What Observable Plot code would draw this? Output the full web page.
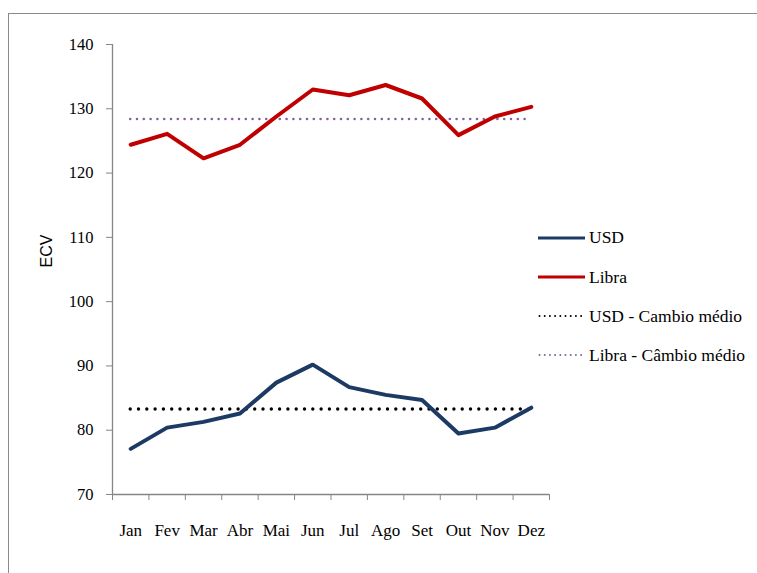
<!DOCTYPE html>
<html>
<head>
<meta charset="utf-8">
<script src="https://cdn.jsdelivr.net/npm/d3@7"></script>
<script src="https://cdn.jsdelivr.net/npm/@observablehq/plot@0.6"></script>
<style>
  html, body { margin: 0; padding: 0; background: #fff; overflow: hidden; }
  #wrap { position: relative; width: 757px; height: 573px; overflow: hidden; background: #fff; }
  #border { position: absolute; left: 8px; top: 13px; width: 900px; height: 700px; border-left: 1.5px solid #8a8a8a; border-top: 1.5px solid #8a8a8a; box-sizing: border-box; }
  #chart { position: absolute; left: 0; top: 0; }
  #ylabel { position: absolute; left: 47px; top: 251px; transform: translate(-50%, -50%) rotate(-90deg); font-family: "Liberation Sans", Arial, sans-serif; font-size: 16px; color: #000; white-space: nowrap; }
  .leg { position: absolute; left: 538px; height: 20px; display: flex; align-items: center; font-family: "Liberation Serif", "Times New Roman", "DejaVu Serif", serif; font-size: 17.5px; color: #000; white-space: nowrap; transform: translateY(-50%); }
  .leg svg { margin-right: 4px; }
</style>
</head>
<body>
<div id="wrap">
  <div id="border"></div>
  <div id="chart"></div>
  <div id="ylabel">ECV</div>
  <div id="legend"></div>
</div>
<script>
// ---- Data ----
const months = ["Jan", "Fev", "Mar", "Abr", "Mai", "Jun", "Jul", "Ago", "Set", "Out", "Nov", "Dez"];
const usd    = [77.1, 80.4, 81.3, 82.6, 87.4, 90.2, 86.7, 85.5, 84.7, 79.5, 80.4, 83.5];
const libra  = [124.4, 126.1, 122.3, 124.4, 128.8, 133.0, 132.1, 133.7, 131.6, 125.9, 128.8, 130.3];
const usdAvg = 83.3;
const libraAvg = 128.4;
const yTicks = [70, 80, 90, 100, 110, 120, 130, 140];
const seriesNames = ["USD", "Libra", "USD - Cambio médio", "Libra - Câmbio médio"];

// ---- Table built from the arrays ----
const rows = months.map((m, i) => ({ idx: i + 0.5, month: m, usd: usd[i], libra: libra[i] }));
const boundaries = d3.range(months.length + 1);
const centers = months.map((m, i) => i + 0.5);

const axisGray = "#868686";
const usdColor = "#1C3A63";
const libraColor = "#C00000";
const purple = "#8064A2";
const serifFont = "'Liberation Serif', 'Times New Roman', 'DejaVu Serif', serif";

const chart = Plot.plot({
  width: 757,
  height: 573,
  marginLeft: 112,
  marginRight: 208,
  marginTop: 44,
  marginBottom: 79,
  style: { fontFamily: serifFont, fontSize: "16.5px", color: "#000", background: "transparent" },
  x: { type: "linear", domain: [0, months.length] },
  y: { domain: [70, 140] },
  marks: [
    Plot.axisY({ ticks: yTicks, tickSize: 6, tickPadding: 13, label: null, stroke: axisGray, fill: "#000", fontSize: 16.5, fontFamily: serifFont }),
    Plot.axisX({ ticks: boundaries, tickFormat: () => "", tickSize: 6, label: null, stroke: axisGray }),
    Plot.axisX({ ticks: centers, tickFormat: d => months[Math.floor(d)], tickSize: 0, tickPadding: 29, label: null, fill: "#000", fontSize: 17, fontFamily: serifFont }),
    Plot.ruleX([0], { stroke: axisGray, strokeWidth: 1.3 }),
    Plot.ruleY([70], { stroke: axisGray, strokeWidth: 1.3 }),
    Plot.ruleY([libraAvg], { x1: 0.5, x2: months.length - 0.5, stroke: purple, strokeWidth: 2.6, strokeDasharray: "0 6.8", strokeLinecap: "round" }),
    Plot.ruleY([usdAvg], { x1: 0.5, x2: months.length - 0.5, stroke: "#000", strokeWidth: 3.4, strokeDasharray: "0 8.3", strokeLinecap: "round" }),
    Plot.line(rows, { x: "idx", y: "libra", stroke: libraColor, strokeWidth: 4, strokeLinejoin: "round", strokeLinecap: "round" }),
    Plot.line(rows, { x: "idx", y: "usd", stroke: usdColor, strokeWidth: 4, strokeLinejoin: "round", strokeLinecap: "round" })
  ]
});
document.getElementById("chart").appendChild(chart);

// ---- Legend ----
const legendStyles = [
  { stroke: usdColor, width: 3, dash: null },
  { stroke: libraColor, width: 3, dash: null },
  { stroke: "#000", width: 2, dash: "0 5.2" },
  { stroke: purple, width: 2, dash: "0 5.2" }
];
const legendY = [237.5, 277, 316, 355];
const legend = document.getElementById("legend");
seriesNames.forEach((name, i) => {
  const s = legendStyles[i];
  const div = document.createElement("div");
  div.className = "leg";
  div.style.top = legendY[i] + "px";
  div.innerHTML = `<svg width="47" height="8"><line x1="${s.dash ? 1.5 : 0}" x2="${s.dash ? 46 : 47}" y1="4" y2="4" stroke="${s.stroke}" stroke-width="${s.width}" ${s.dash ? `stroke-dasharray="${s.dash}" stroke-linecap="round"` : ""}/></svg><span>${name}</span>`;
  legend.appendChild(div);
});
</script>
</body>
</html>
